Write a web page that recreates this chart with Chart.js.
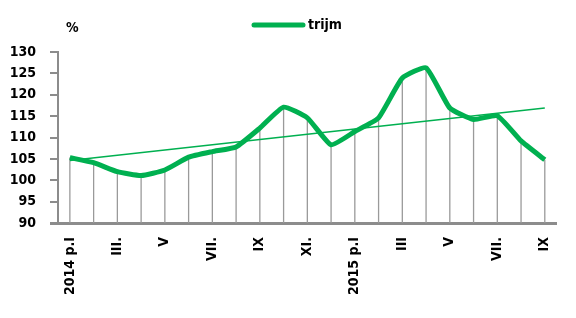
<!DOCTYPE html>
<html>
<head>
<meta charset="utf-8">
<script src="https://cdn.jsdelivr.net/npm/chart.js@4/dist/chart.umd.min.js"></script>
<style>
  html, body { margin: 0; padding: 0; background: #fff; }
  #wrap { width: 576px; height: 318px; position: relative; }
</style>
</head>
<body>
<div id="wrap"><canvas id="chart"></canvas></div>
<script>
// months 2014 I .. 2015 IX
const months = [
  "2014 p.I", "", "III.", "", "V", "", "VII.", "", "IX", "", "XI.", "",
  "2015 p.I", "", "III", "", "V", "", "VII.", "", "IX"
];
const trijm = [
  105.3, 104.1, 102.0, 101.1, 102.4, 105.4, 106.7, 107.8, 112.2, 117.1, 114.6, 108.3,
  111.4, 114.6, 123.9, 126.3, 116.9, 114.2, 115.1, 109.2, 104.8
];
// linear trend, read at the two ends
const trendLine = [
  104.6, null, null, null, null, null, null, null, null, null, null, null,
  null, null, null, null, null, null, null, null, 116.9
];
const yTicks = [90, 95, 100, 105, 110, 115, 120, 125, 130];

const GREEN = "rgb(0, 176, 80)";
const AXIS_GRAY = "#8c8c8c";
const FONT = "'DejaVu Sans Condensed', 'DejaVu Sans', sans-serif";

// Excel style drop lines from each point down to the axis
const dropLines = {
  id: "dropLines",
  beforeDatasetsDraw(chart) {
    const ctx = chart.ctx;
    const meta = chart.getDatasetMeta(0);
    const bottom = chart.chartArea.bottom;
    ctx.save();
    ctx.strokeStyle = "#9a9a9a";
    ctx.lineWidth = 1.3;
    meta.data.forEach((pt) => {
      ctx.beginPath();
      ctx.moveTo(pt.x, pt.y);
      ctx.lineTo(pt.x, bottom);
      ctx.stroke();
    });
    ctx.restore();
  },
};

// legend, unit label and the x axis stub left of the y axis
const extras = {
  id: "extras",
  afterDraw(chart) {
    const ctx = chart.ctx;
    const area = chart.chartArea;
    ctx.save();
    ctx.strokeStyle = AXIS_GRAY;
    ctx.lineWidth = 3;
    ctx.beginPath();
    ctx.moveTo(area.left - 8, area.bottom + 0.5);
    ctx.lineTo(area.left, area.bottom + 0.5);
    ctx.stroke();

    ctx.strokeStyle = GREEN;
    ctx.lineWidth = 5;
    ctx.lineCap = "round";
    ctx.beginPath();
    ctx.moveTo(254, 25);
    ctx.lineTo(303, 25);
    ctx.stroke();
    ctx.fillStyle = "#000";
    ctx.font = "bold 14px " + FONT;
    ctx.textBaseline = "middle";
    ctx.textAlign = "left";
    ctx.fillText("trijm", 308, 25);
    ctx.fillText("%", 66, 28);
    ctx.restore();
  },
};

new Chart(document.getElementById("chart"), {
  type: "line",
  data: {
    labels: months,
    datasets: [
      {
        label: "trijm",
        data: trijm,
        borderColor: GREEN,
        borderWidth: 5,
        tension: 0.15,
        pointRadius: 0,
        order: 2,
      },
      {
        label: "trend",
        data: trendLine,
        borderColor: GREEN,
        borderWidth: 1.5,
        spanGaps: true,
        pointRadius: 0,
        order: 1,
      },
    ],
  },
  options: {
    responsive: true,
    maintainAspectRatio: false,
    animation: false,
    layout: { padding: { top: 52, right: 17, left: 0, bottom: 0 } },
    scales: {
      x: {
        offset: true,
        grid: { display: false, drawTicks: false },
        border: { display: true, color: AXIS_GRAY, width: 3 },
        ticks: {
          autoSkip: false,
          maxRotation: 90,
          minRotation: 90,
          padding: 14,
          color: "#000",
          font: { family: FONT, size: 14, weight: "bold" },
        },
        afterFit(scale) { scale.height = 95; },
      },
      y: {
        min: 90,
        max: 130,
        afterBuildTicks(scale) {
          scale.ticks = yTicks.map((v) => ({ value: v }));
        },
        grid: {
          drawOnChartArea: false,
          drawTicks: true,
          tickLength: 8,
          color: AXIS_GRAY,
          lineWidth: 2,
        },
        border: { display: true, color: AXIS_GRAY, width: 2 },
        ticks: {
          padding: 14,
          color: "#000",
          font: { family: FONT, size: 14, weight: "bold" },
        },
        afterFit(scale) { scale.width = 58; },
      },
    },
    plugins: {
      legend: { display: false },
      tooltip: { enabled: false },
    },
  },
  plugins: [dropLines, extras],
});
</script>
</body>
</html>
